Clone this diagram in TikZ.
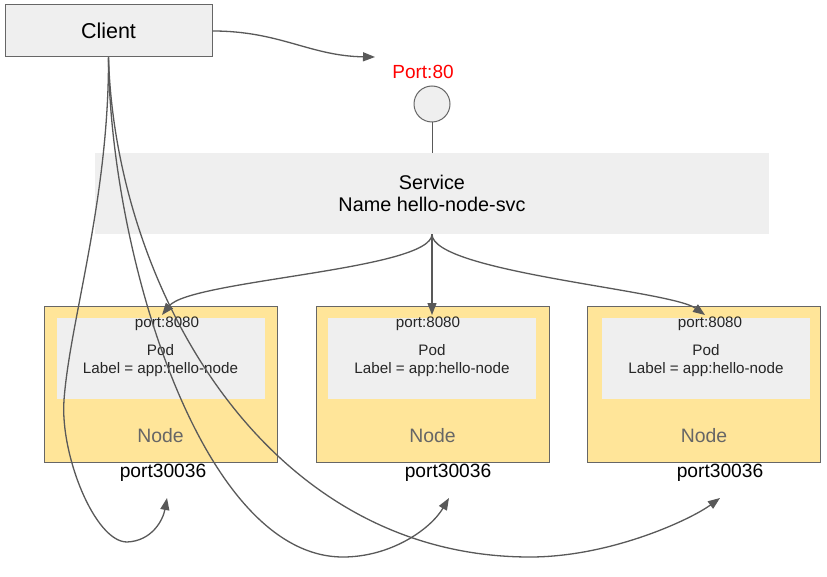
\documentclass[tikz,border=0pt]{standalone}
\usepackage{fontspec}
\setmainfont{Liberation Sans}
\usetikzlibrary{arrows.meta}
\definecolor{lgray}{HTML}{EFEFEF}
\definecolor{dgray}{HTML}{595959}
\definecolor{bgray}{HTML}{666666}
\definecolor{nodey}{HTML}{FFE599}
\begin{document}
\begin{tikzpicture}[x=1pt,y=-1pt,
  conn/.style={draw=dgray, line width=1.3pt},
  arr/.style={conn, -{Triangle[length=12pt,width=9pt]}},
  nodebox/.style={draw=bgray, fill=nodey, line width=1pt, minimum width=233pt, minimum height=156pt, inner sep=0pt},
  podbox/.style={fill=lgray, minimum width=208pt, minimum height=81pt, inner sep=0pt},
  smalltxt/.style={font=\fontsize{15.2}{18}\selectfont, text=black!85, anchor=base, inner sep=0pt},
  nodetxt/.style={font=\fontsize{19.4}{22}\selectfont, text=bgray, anchor=base},
  porttxt/.style={font=\fontsize{19.2}{22}\selectfont, text=black, anchor=base}]
\useasboundingbox (0,0) rectangle (827,577);
\fill[white] (0,0) rectangle (827,577);

\node[draw=bgray, fill=lgray, line width=1pt, minimum width=207pt, minimum height=52pt, inner sep=0pt,
  font=\fontsize{21.5}{24}\selectfont] (client) at (108.5,31) {Client};

\node[anchor=base, text=red, font=\fontsize{19}{22}\selectfont] (port80) at (423,79) {Port:80};
\node[circle, draw=bgray, fill=lgray, minimum size=36pt, inner sep=0pt, line width=1pt] (circ) at (432,104) {};

\node[fill=lgray, minimum width=674pt, minimum height=81pt, inner sep=0pt, align=center,
  font=\fontsize{19.8}{22.5}\selectfont] (svc) at (432,193.5) {Service\\Name hello-node-svc};
\draw[conn, line width=1pt] (circ.south) -- (svc.north);

% nodes
\node[nodebox] (n1) at (160.5,384) {};
\node[nodebox] (n2) at (432.5,384) {};
\node[nodebox] (n3) at (704,384) {};
\node[podbox] (p1) at (161,358.5) {};
\node[podbox] (p2) at (432,358.5) {};
\node[podbox] (p3) at (706,358.5) {};

\node[smalltxt] (pp1) at (167,327) {port:8080};
\node[smalltxt] (pp2) at (428,327) {port:8080};
\node[smalltxt] (pp3) at (710,327) {port:8080};

\node[smalltxt] (pd1) at (160.5,355) {Pod};
\node[smalltxt] (pd2) at (432,355) {Pod};
\node[smalltxt] (pd3) at (706,355) {Pod};
\node[smalltxt] (lb1) at (160.5,373) {Label = app:hello-node};
\node[smalltxt] (lb2) at (432,373) {Label = app:hello-node};
\node[smalltxt] (lb3) at (706,373) {Label = app:hello-node};

\node[nodetxt] (nt1) at (160.5,442) {Node};
\node[nodetxt] (nt2) at (432.5,442) {Node};
\node[nodetxt] (nt3) at (704,442) {Node};

\node[porttxt] (np1) at (163,477) {port30036};
\node[porttxt] (np2) at (448,477) {port30036};
\node[porttxt] (np3) at (720,477) {port30036};

% arrow end points
\coordinate (tP) at (375,57);
\coordinate (t1) at (162,315);
\coordinate (t2) at (432,315);
\coordinate (t3) at (705,315);
\coordinate (tA) at (167,498);
\coordinate (tB) at (449,498);
\coordinate (tC) at (720,498);

% connectors
\draw[arr] (client.east) .. controls (280,31) and (310,56) .. (tP);
\draw[arr] (svc.south) .. controls (432,270) and (190,280) .. (t1);
\draw[arr] (svc.south) -- (t2);
\draw[arr] (svc.south) .. controls (432,272) and (670,290) .. (t3);

\draw[arr] (client.south) .. controls (109,200) and (70,320) .. (64,400)
  .. controls (60,455) and (95,542) .. (127,542)
  .. controls (152,541) and (163,520) .. (tA);
\draw[arr] (client.south) .. controls (110,250) and (200,557) .. (343,557)
  .. controls (390,557) and (430,530) .. (tB);
\draw[arr] (client.south) .. controls (115,280) and (260,557) .. (530,557)
  .. controls (610,557) and (690,520) .. (tC);
\end{tikzpicture}
\end{document}
